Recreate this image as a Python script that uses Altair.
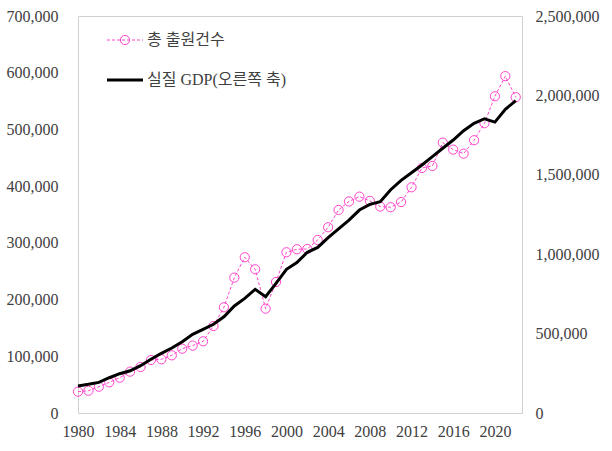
import altair as alt
import pandas as pd

years = list(range(1980, 2023))
applications = [37600, 39300, 46400, 54100, 62300, 72900, 81100, 93500, 94700, 101700,
                113400, 118800, 126400, 153400, 186400, 238700, 274600, 253400, 184000, 231000,
                283400, 288700, 289200, 305100, 327500, 358000, 373000, 381500, 374000, 364000,
                362800, 372000, 398000, 432000, 435600, 476700, 464400, 457300, 481000, 511000,
                558500, 594000, 556800]
gdp = [170000, 180700, 193000, 222000, 247500, 266000, 298000, 338000, 376000, 409000,
       449000, 495600, 527000, 558500, 606000, 674000, 722000, 779000, 732000, 816700,
       905000, 947000, 1012000, 1043000, 1104000, 1160000, 1215000, 1278000, 1314000, 1331000,
       1406000, 1465000, 1513000, 1562000, 1614000, 1667000, 1719000, 1778000, 1824000, 1853000,
       1832000, 1912000, 1967000]
x_ticks = [1980, 1984, 1988, 1992, 1996, 2000, 2004, 2008, 2012, 2016, 2020]
left_ticks = [0, 100000, 200000, 300000, 400000, 500000, 600000, 700000]
right_ticks = [0, 500000, 1000000, 1500000, 2000000, 2500000]
legend_labels = ["총 출원건수", "실질 GDP(오른쪽 축)"]

df = pd.DataFrame({"year": years, "apps": applications, "gdp": gdp})

FONT = "Liberation Serif, Noto Sans CJK KR"
PINK = "#ff44cc"
LABEL_COLOR = "#404040"

x_enc = alt.X("year:Q", scale=alt.Scale(domain=[1980, 2022.6], nice=False, zero=False),
              axis=alt.Axis(values=x_ticks, format="d", title=None, grid=False, ticks=False,
                            domain=False, labelFont=FONT, labelFontSize=16,
                            labelColor=LABEL_COLOR, labelPadding=10, labelFlush=False))

left_scale = alt.Scale(domain=[0, 700000], nice=False)
left_axis = alt.Axis(values=left_ticks, format=",d", title=None, grid=False, ticks=False,
                     domain=False, labelFont=FONT, labelFontSize=16, labelColor=LABEL_COLOR,
                     labelPadding=20, orient="left")

pink_line = alt.Chart(df).mark_line(color=PINK, strokeWidth=1, strokeDash=[3, 2]).encode(
    x=x_enc, y=alt.Y("apps:Q", scale=left_scale, axis=left_axis))
pink_pts = alt.Chart(df).mark_point(shape="circle", filled=False, color=PINK, size=85,
                                    strokeWidth=1, opacity=1).encode(
    x=x_enc, y=alt.Y("apps:Q", scale=left_scale, axis=left_axis))

right_axis = alt.Axis(values=right_ticks, format=",d", title=None, grid=False, ticks=False,
                      domain=False, labelFont=FONT, labelFontSize=16, labelColor=LABEL_COLOR,
                      labelPadding=13, orient="right")
black_line = alt.Chart(df).mark_line(color="black", strokeWidth=3).encode(
    x=x_enc, y=alt.Y("gdp:Q", scale=alt.Scale(domain=[0, 2500000], nice=False), axis=right_axis))

# legend
leg_df = pd.DataFrame({"label": [legend_labels[0]]})
leg_df2 = pd.DataFrame({"label": [legend_labels[1]]})
leg1_line = alt.Chart(leg_df).mark_rule(color=PINK, strokeWidth=1, strokeDash=[3, 2]).encode(
    x=alt.value(29), x2=alt.value(65), y=alt.value(24))
leg1_pt = alt.Chart(leg_df).mark_point(shape="circle", filled=False, color=PINK, size=85,
                                       strokeWidth=1, opacity=1).encode(
    x=alt.value(47), y=alt.value(24))
leg1_txt = alt.Chart(leg_df).mark_text(align="left", baseline="middle", font=FONT, fontSize=16,
                                       color=LABEL_COLOR).encode(
    x=alt.value(69), y=alt.value(24), text="label:N")
leg2_line = alt.Chart(leg_df2).mark_rule(color="black", strokeWidth=3).encode(
    x=alt.value(29), x2=alt.value(65), y=alt.value(64))
leg2_txt = alt.Chart(leg_df2).mark_text(align="left", baseline="middle", font=FONT, fontSize=16,
                                        color=LABEL_COLOR).encode(
    x=alt.value(69), y=alt.value(64), text="label:N")

chart = alt.layer(
    alt.layer(pink_line, pink_pts),
    black_line,
    leg1_line, leg1_pt, leg1_txt, leg2_line, leg2_txt,
).resolve_scale(y="independent").properties(
    width=444, height=397,
    autosize=alt.AutoSizeParams(type="none"),
    padding={"left": 78, "top": 16, "right": 90, "bottom": 38},
    background="white",
).configure_view(stroke="#d0d0d0", strokeWidth=1)

chart.save("out.html", embed_options={"renderer": "svg", "actions": False})
